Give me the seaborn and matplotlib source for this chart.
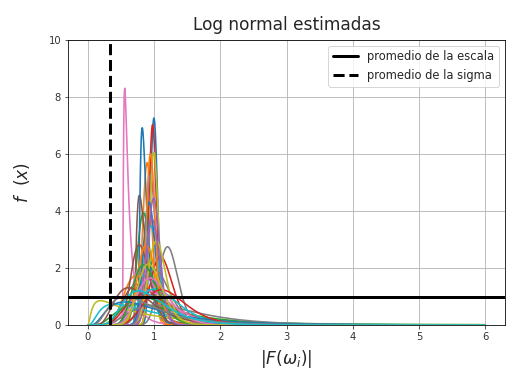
import numpy as np
import pandas as pd
import matplotlib
matplotlib.use("Agg")
import matplotlib.pyplot as plt
import seaborn as sns

# --- parametros estimados de cada log normal (s, loc, escala) ---
sigmas = [0.055, 0.078, 0.12, 0.058, 0.08, 0.7, 0.9, 0.12, 0.066, 0.12,
          0.6, 0.3, 0.45, 0.15, 0.25, 0.35, 0.5, 0.2, 1.2, 0.9,
          0.1, 0.07, 0.6, 0.4, 0.09, 0.18, 0.35, 0.5, 0.13, 0.3,
          0.7, 0.16, 0.22, 0.28, 0.11, 0.45, 0.25, 0.6, 0.2, 0.4]
locs = [0.0, 0.0, 0.0, 0.0, 0.0, 0.68, 0.52, 0.0, 0.0, 0.0,
        0.74, 0.0, 0.0, 0.0, 0.0, 0.0, 0.45, 0.0, 0.0, 0.0,
        0.0, 0.0, 0.0, 0.0, 0.0, 0.0, 0.0, 0.0, 0.0, 0.0,
        0.0, 0.0, 0.0, 0.0, 0.0, 0.0, 0.0, 0.0, 0.0, 0.0]
escalas = [1.0, 0.9, 0.85, 0.98, 0.95, 0.16, 0.08, 1.22, 1.0, 0.96,
           0.115, 0.8, 1.0, 1.12, 0.95, 0.85, 0.45, 1.05, 0.8, 0.9,
           0.93, 0.95, 1.1, 1.0, 1.0, 0.8, 1.0, 1.3, 1.05, 1.1,
           0.9, 0.9, 0.88, 1.2, 0.98, 0.75, 1.0, 0.8, 0.95, 0.9]

promedio_escala = 1.0
promedio_sigma = 0.33

x = np.linspace(0, 6, 1200)

# --- tabla larga con las densidades ---
rows = []
for i, (s, loc, esc) in enumerate(zip(sigmas, locs, escalas)):
    z = x - loc
    y = np.zeros_like(x)
    m = z > 0
    y[m] = np.exp(-(np.log(z[m] / esc) ** 2) / (2 * s ** 2)) / (z[m] * s * np.sqrt(2 * np.pi))
    rows.append(pd.DataFrame({"x": x, "f": y, "curva": i}))
df = pd.concat(rows, ignore_index=True)

sns.set_style("white")
fig = plt.figure(figsize=(508 / 72, 374 / 72), dpi=72)
ax = fig.add_axes([0.134, 0.131, 0.86, 0.762])

pal = [sns.color_palette("tab10")[i % 10] for i in range(len(sigmas))]
sns.lineplot(data=df, x="x", y="f", hue="curva", palette=pal, legend=False,
             linewidth=1.6, ax=ax)

ax.axhline(promedio_escala, color="black", lw=3, label="promedio de la escala")
ax.axvline(promedio_sigma, color="black", lw=3, ls="--", label="promedio de la sigma")

ax.set_ylim(0, 10)
ax.set_xlim(-0.3, 6.3)
ax.grid(True, color="#b0b0b0", lw=0.8)
for sp in ax.spines.values():
    sp.set_color("black")
    sp.set_linewidth(0.8)
ax.tick_params(axis="both", labelsize=10, length=3.5, width=0.8, left=True, bottom=True, colors="#333333")
ax.set_title("Log normal estimadas", fontsize=17, pad=10)
ax.set_ylabel(r"$f\ \ (x)$", fontsize=17, labelpad=16)
ax.set_xlabel(r"$|F(\omega_i)|$", fontsize=17, labelpad=6)
ax.legend(loc="upper right", fontsize=11.5, handlelength=2.2)

fig.savefig("out.png", dpi=72)
